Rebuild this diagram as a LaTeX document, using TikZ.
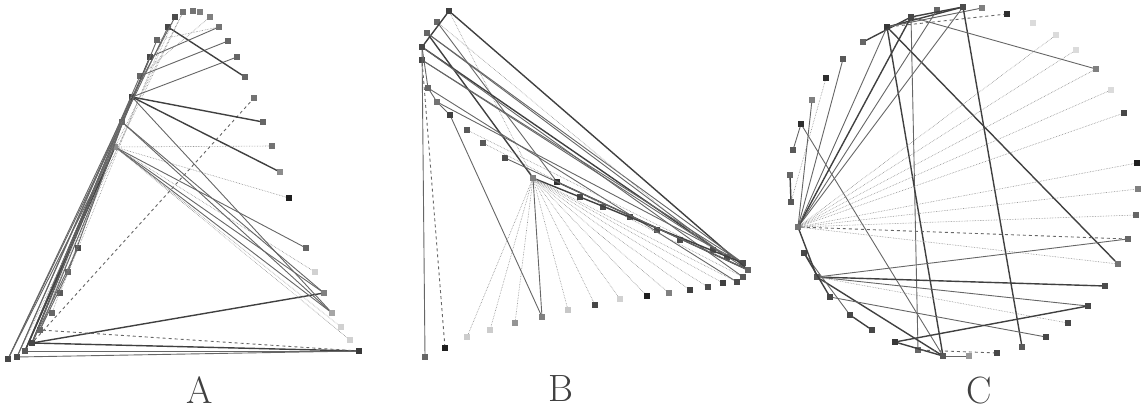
\documentclass[tikz,border=0pt]{standalone}
\usepackage{fontspec}
\usepackage{tikz}

\begin{document}
\begin{tikzpicture}[
    x=1pt, y=-1pt,
    vtx/.style={rectangle, inner sep=0pt, minimum size=5.5pt, draw=none},
    dk/.style={black!75, line width=1.4pt},
    md/.style={black!60, line width=0.9pt},
    lt/.style={black!45, line width=0.6pt, densely dotted},
    dsh/.style={black!60, line width=0.9pt, dashed},
    lbl/.style={font=\fontsize{38}{40}\selectfont, text=black!75}
]
\useasboundingbox (0,0) rectangle (1142,411);

% Graph A - nodes along the right arc, then down the left edge
\foreach \n/\x/\y/\g in {1/183/12/55, 2/193/11/55, 3/200/12/50, 4/210/17/50, 5/219/27/55,
    6/228/41/60, 7/237/57/60, 8/245/77/60, 9/254/98/55, 10/263/122/60, 11/272/146/55,
    12/280/172/45, 13/289/198/88, 14/306/248/60, 15/315/272/18, 16/324/293/50,
    17/332/313/35, 18/341/327/18, 19/350/340/18, 20/359/351/78,
    21/175/17/70, 22/168/27/72, 23/157/40/60, 24/150/57/72, 25/140/76/60, 26/132/97/75,
    27/122/122/60, 28/115/147/45, 29/78/248/70, 30/68/272/60, 31/60/293/65, 32/52/313/60,
    33/40/330/60, 34/32/343/72, 35/25/351/65, 36/17/357/70, 37/8/359/72}
    \node[vtx, fill=black!\g] (a\n) at (\x,\y) {};

\foreach \u/\v/\s in {37/26/md, 36/25/md, 35/24/dk, 34/23/md, 34/21/lt, 34/26/dk,
    33/28/md, 35/27/md, 36/1/lt, 37/22/md, 34/29/md, 33/30/md, 32/27/lt, 35/28/dk,
    36/26/md, 37/28/md, 34/27/md, 33/25/lt, 31/22/lt, 30/26/md,
    34/9/dsh, 34/16/dk, 34/20/dk, 33/20/dsh, 35/20/md, 36/20/md,
    26/7/md, 26/10/dk, 26/12/dk, 25/6/md, 22/8/dk, 21/26/md, 1/28/lt, 24/5/md,
    28/11/lt, 28/13/lt, 28/14/md, 28/15/lt, 28/16/md, 28/17/md, 28/18/lt, 28/19/lt,
    26/17/md, 27/16/md, 27/17/md, 23/5/lt, 25/4/lt}
    \draw[\s] (a\u) -- (a\v);

% Graph B - left column, hub, lower arc
\foreach \n/\x/\y/\g in {1/449/11/75, 2/437/22/60, 3/427/33/60, 4/422/47/72, 5/422/60/72,
    6/428/88/60, 7/437/102/55, 8/450/115/75, 9/467/130/65, 10/483/143/65, 11/505/158/70,
    12/533/178/50, 13/557/182/82, 14/580/197/70, 15/603/207/70, 16/630/217/70,
    17/657/230/70, 18/680/240/70, 19/713/250/70, 20/727/257/70, 21/743/263/70,
    22/748/270/60, 23/743/277/65, 24/737/282/70, 25/723/283/75, 26/708/287/70,
    27/690/290/75, 28/669/293/50, 29/647/296/88, 30/620/299/18, 31/595/305/72,
    32/568/310/22, 33/542/317/50, 34/515/323/42, 35/490/330/20, 36/467/337/20,
    37/445/348/88, 38/425/357/60}
    \node[vtx, fill=black!\g] (b\n) at (\x,\y) {};

\foreach \u/\v/\s in {1/22/dk, 1/4/dk, 1/12/lt, 2/13/md, 3/12/dk, 4/20/dk, 4/38/md,
    5/37/dsh, 3/21/md, 4/23/md, 5/22/md, 6/24/md, 2/19/lt, 7/21/md, 9/22/lt, 10/23/lt,
    8/33/md, 12/21/dk, 13/22/dk, 11/22/md, 4/6/md, 6/7/md, 7/8/md, 5/21/md, 3/20/md,
    12/36/lt, 12/35/lt, 12/34/lt, 12/33/md, 12/32/lt, 12/31/lt, 12/30/lt, 12/29/lt,
    12/28/lt, 12/27/lt, 12/26/lt, 12/25/lt, 12/24/lt}
    \draw[\s] (b\u) -- (b\v);

% Graph C - nodes on a circle, clockwise from the top
\foreach \n/\x/\y/\g in {1/963/7/70, 2/982/8/50, 3/1007/14/82, 4/1033/23/14, 5/1056/35/14,
    6/1076/50/14, 7/1096/69/50, 8/1111/90/14, 9/1124/113/72, 10/1137/163/88,
    11/1138/189/50, 12/1136/215/60, 13/1128/239/60, 14/1118/264/55, 15/1105/286/70,
    16/1088/306/72, 17/1068/323/72, 18/1046/337/72, 19/1022/347/65, 20/997/353/72,
    21/969/356/40, 22/943/356/65, 23/918/350/60, 24/895/342/78, 25/872/330/72,
    26/850/315/72, 27/830/297/72, 28/817/277/65, 29/804/253/72, 30/798/227/55,
    31/791/202/65, 32/790/175/60, 33/793/150/65, 34/801/124/82, 35/812/100/50,
    36/826/78/82, 37/843/59/65, 38/863/42/60, 39/887/27/78, 40/911/17/72, 41/937/10/60}
    \node[vtx, fill=black!\g] (c\n) at (\x,\y) {};

\foreach \u/\v/\s in {39/1/dk, 38/40/dk, 39/3/dsh, 40/1/dk, 39/2/md, 1/19/dk, 40/23/md,
    39/14/dk, 39/22/dk, 40/7/md, 34/22/md, 32/31/dk, 33/34/md,
    30/41/md, 30/1/md, 30/40/dk, 30/39/md, 30/5/lt, 30/6/lt, 30/7/lt, 30/8/lt, 30/9/lt,
    30/10/lt, 30/11/lt, 30/12/lt, 30/13/dsh, 30/14/lt,
    28/15/dk, 28/16/md, 28/13/md, 28/22/dk, 28/17/lt, 27/18/md,
    26/25/dk, 24/16/dk, 24/22/dk, 22/21/md, 23/20/dsh,
    31/36/lt, 30/37/md, 29/26/md, 30/28/dk, 29/27/dk, 35/30/md}
    \draw[\s] (c\u) -- (c\v);

% Panel letters
\node[lbl] (labA) at (200,390) {A};
\node[lbl] (labB) at (561,389) {B};
\node[lbl] (labC) at (979,391) {C};

\end{tikzpicture}
\end{document}
